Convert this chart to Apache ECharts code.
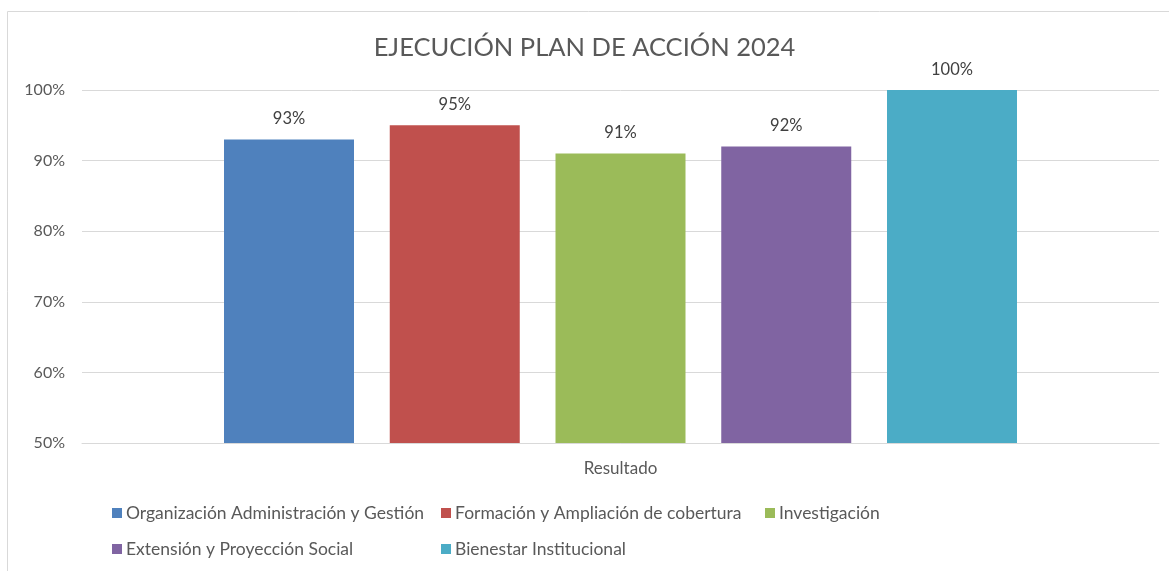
<!DOCTYPE html>
<html>
<head>
<meta charset="utf-8">
<script src="https://cdn.jsdelivr.net/npm/echarts@6/dist/echarts.min.js"></script>
<style>
  html, body { margin: 0; padding: 0; background: #fff; }
  #chart { width: 1169px; height: 571px; }
</style>
</head>
<body>
<div id="chart"></div>
<script>
// datos
var categorias = ['Resultado'];
var series = [
  'Organización Administración y Gestión',
  'Formación y Ampliación de cobertura',
  'Investigación',
  'Extensión y Proyección Social',
  'Bienestar Institucional'
];
var valores = [93, 95, 91, 92, 100];
var colores = ['#4F81BD', '#C0504D', '#9BBB59', '#8064A2', '#4BACC6'];
var ticks = [50, 60, 70, 80, 90, 100];

// posiciones de la leyenda (dos filas como en Excel)
var leyendaPos = [[112, 504], [441, 504], [765, 504], [112, 540], [441, 540]];

var chart = echarts.init(document.getElementById('chart'));

var fuente = 'Lato, "Open Sans", sans-serif';

chart.setOption({
  animation: false,
  textStyle: { fontFamily: fuente },
  title: {
    text: 'EJECUCIÓN PLAN DE ACCIÓN 2024',
    left: 'center',
    top: 30,
    textStyle: { fontSize: 25.5, fontWeight: 'normal', color: '#595959', fontFamily: fuente }
  },
  graphic: [{
    type: 'rect',
    shape: { x: 7.5, y: 11.5, width: 1200, height: 600 },
    style: { fill: 'none', stroke: '#d9d9d9', lineWidth: 1 },
    silent: true
  }],
  legend: series.map(function (s, i) {
    return {
      data: [s],
      left: leyendaPos[i][0],
      top: leyendaPos[i][1],
      icon: 'rect',
      itemWidth: 10,
      itemHeight: 10,
      itemGap: 0,
      padding: 0,
      textStyle: { fontSize: 17.5, color: '#595959', padding: [0, 0, 0, -1] }
    };
  }),
  grid: { left: 82, right: 10, top: 90, bottom: 128 },
  xAxis: {
    type: 'category',
    data: categorias,
    axisLine: { lineStyle: { color: '#d9d9d9' } },
    axisTick: { show: false },
    axisLabel: { fontSize: 17, color: '#595959', margin: 17 }
  },
  yAxis: {
    type: 'value',
    min: ticks[0],
    max: ticks[ticks.length - 1],
    interval: 10,
    axisLine: { show: false },
    axisTick: { show: false },
    splitLine: { lineStyle: { color: '#d9d9d9' } },
    axisLabel: { fontSize: 16, color: '#595959', margin: 17, formatter: '{value}%' }
  },
  series: series.map(function (s, i) {
    return {
      name: s,
      type: 'bar',
      data: [valores[i]],
      barWidth: 130,
      barGap: '27.5%',
      itemStyle: { color: colores[i] },
      label: {
        show: true,
        position: 'top',
        distance: 12,
        fontSize: 16.5,
        color: '#404040',
        formatter: '{c}%'
      }
    };
  })
});
</script>
</body>
</html>
